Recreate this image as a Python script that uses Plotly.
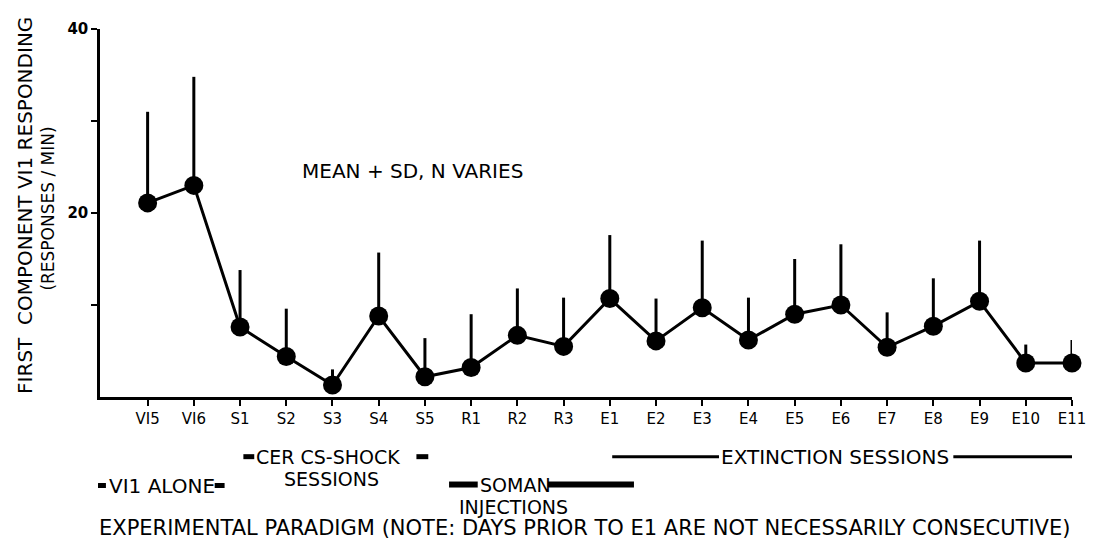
import plotly.graph_objects as go

sessions = ["VI5", "VI6", "S1", "S2", "S3", "S4", "S5", "R1", "R2", "R3",
            "E1", "E2", "E3", "E4", "E5", "E6", "E7", "E8", "E9", "E10", "E11"]
mean_rate = [21.1, 23.0, 7.6, 4.4, 1.3, 8.8, 2.2, 3.2, 6.7, 5.5,
             10.7, 6.1, 9.7, 6.2, 9.0, 10.0, 5.4, 7.7, 10.4, 3.7, 3.7]
mean_plus_sd = [31.0, 34.8, 13.8, 9.6, 3.0, 15.7, 6.4, 9.0, 11.8, 10.8,
                17.6, 10.7, 17.0, 10.8, 15.0, 16.6, 9.2, 12.9, 17.0, 5.7, 6.2]
sd = [round(t - m, 2) for t, m in zip(mean_plus_sd, mean_rate)]

y_tickvals = [10, 20, 30, 40]
y_ticktext = ["", "20", "", "40"]

# page body has an 8px default margin; compensate
OX, OY = 8, 8
PW, PH = 1098, 543
W, H = PW - OX, PH - OY
L, R, T, B = 100, 1083, 27, 397  # plot area in page pixels
FONT = "DejaVu Sans, Verdana, sans-serif"


def px(xp):
    return (xp - L) / (R - L)


def py(yp):
    return (B - yp) / (B - T)


fig = go.Figure()
fig.add_trace(go.Scatter(
    x=sessions, y=mean_rate, mode="lines+markers",
    line=dict(color="black", width=3),
    marker=dict(color="black", size=19),
    error_y=dict(type="data", symmetric=False, array=sd,
                 arrayminus=[0] * len(sd), color="black", thickness=3, width=0),
    cliponaxis=False, showlegend=False,
))

annotations = []


def text(s, xp, yp, size=19, anchor="left", angle=0):
    annotations.append(dict(text=s, x=px(xp), y=py(yp), xref="paper", yref="paper",
                            xanchor=anchor, yanchor="middle", showarrow=False,
                            textangle=angle,
                            font=dict(family=FONT, size=size, color="black")))


shapes = []


def bar(x0, x1, yp, w=4):
    shapes.append(dict(type="line", xref="paper", yref="paper",
                       x0=px(x0), x1=px(x1), y0=py(yp), y1=py(yp),
                       line=dict(color="black", width=w)))


text("MEAN + SD, N VARIES", 302, 170, size=20)
text("FIRST  COMPONENT VI1 RESPONDING", 24, 204, size=20, anchor="center", angle=-90)
text("(RESPONSES / MIN)", 47, 208, size=17, anchor="center", angle=-90)

text("CER CS-SHOCK", 256, 457, size=19)
bar(245, 256, 457, 5)
bar(420, 432, 457, 5)
text("SESSIONS", 334, 479, size=19, anchor="center")

text("VI1 ALONE", 107, 486, size=20)
bar(98, 106, 486, 5)
bar(216, 226, 486, 5)

text("SOMAN", 482, 485, size=19)
bar(453, 482, 485, 6)
bar(553, 640, 485, 6)
text("INJECTIONS", 518, 508, size=19, anchor="center")

text("EXTINCTION SESSIONS", 726, 457, size=20)
bar(618, 726, 457, 3)
bar(963, 1083, 457, 3)

text("EXPERIMENTAL PARADIGM (NOTE: DAYS PRIOR TO E1 ARE NOT NECESSARILY CONSECUTIVE)",
     97, 529, size=21)

fig.update_layout(
    width=W, height=H,
    margin=dict(l=L - OX, r=PW - R, t=T - OY, b=PH - B, pad=0),
    paper_bgcolor="white", plot_bgcolor="white",
    font=dict(family=FONT, color="black"),
    annotations=annotations, shapes=shapes,
    xaxis=dict(type="category", range=[-1.03, 20], showline=True, linecolor="black",
               linewidth=2.5, ticks="outside", ticklen=6, tickwidth=2, tickcolor="black",
               showgrid=False, zeroline=False,
               tickfont=dict(family=FONT, size=15, color="black")),
    yaxis=dict(range=[0, 40], showline=True, linecolor="black", linewidth=2.5,
               ticks="outside", ticklen=6, tickwidth=2, tickcolor="black",
               tickvals=y_tickvals, ticktext=y_ticktext,
               showgrid=False, zeroline=False,
               tickfont=dict(family="DejaVu Sans, Verdana", size=15, color="black",
                             weight="bold")),
)

fig.write_html("out.html")
